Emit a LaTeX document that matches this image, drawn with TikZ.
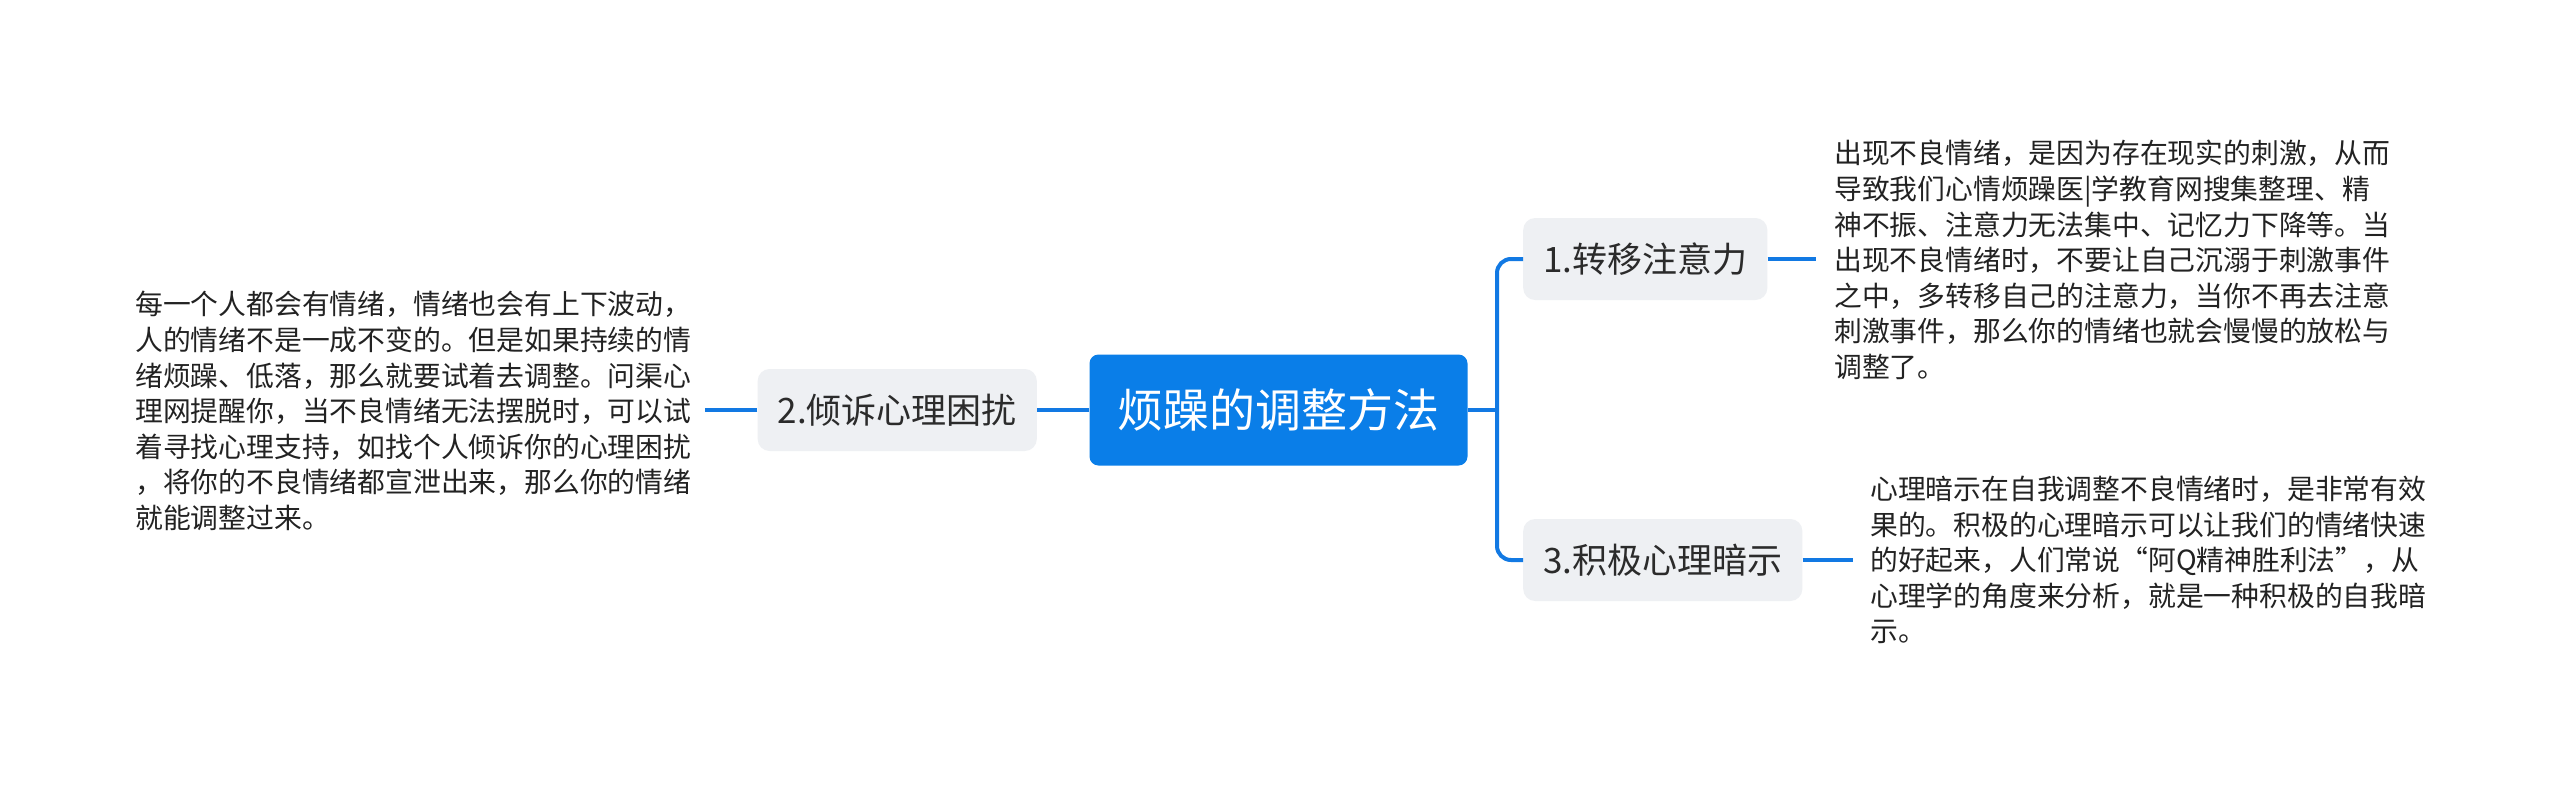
\documentclass[tikz,border=0pt]{standalone}
\usepackage{fontspec}
\newfontfamily\cjk{Noto Sans CJK SC}
\definecolor{mainblue}{HTML}{0A7EE8}
\definecolor{linkblue}{HTML}{1279E3}
\definecolor{branchgray}{HTML}{EEF0F3}
\definecolor{nodetext}{HTML}{2B2B2B}
\definecolor{leaftext}{HTML}{222222}
\tikzset{
  rootbox/.style={fill=mainblue, text=white, rounded corners=9pt, inner xsep=28pt, inner ysep=0pt,
    minimum height=111pt, font={\cjk\fontsize{46}{52}\selectfont}},
  branchbox/.style={fill=branchgray, text=nodetext, rounded corners=12pt, inner xsep=20pt, inner ysep=0pt,
    minimum height=82pt, font={\cjk\fontsize{35}{40}\selectfont}},
  leafbox/.style={text=leaftext, inner sep=0pt, align=left, text width=620pt,
    font={\cjk\fontsize{27.8}{35.6}\selectfont}},
  conn/.style={draw=linkblue, line width=4pt},
}
\begin{document}
\begin{tikzpicture}[x=1pt,y=-1pt]
\fill[white] (0,0) rectangle (2560,785);
\useasboundingbox (0,0) rectangle (2560,785);

\node[rootbox] (c) at (1278.5,410) {烦躁的调整方法};
\node[branchbox, anchor=west] (b1) at (1523,259) {1.转移注意力};
\node[branchbox, anchor=east] (b2) at (1037,410) {2.倾诉心理困扰};
\node[branchbox, anchor=west] (b3) at (1523,560) {3.积极心理暗示};

\node[leafbox, anchor=west] (t1) at (1834,260) {出现不良情绪，是因为存在现实的刺激，从而\\导致我们心情烦躁医|学教育网搜集整理、精\\神不振、注意力无法集中、记忆力下降等。当\\出现不良情绪时，不要让自己沉溺于刺激事件\\之中，多转移自己的注意力，当你不再去注意\\刺激事件，那么你的情绪也就会慢慢的放松与\\调整了。};
\node[leafbox, anchor=west] (t2) at (135,411) {每一个人都会有情绪，情绪也会有上下波动，\\人的情绪不是一成不变的。但是如果持续的情\\绪烦躁、低落，那么就要试着去调整。问渠心\\理网提醒你，当不良情绪无法摆脱时，可以试\\着寻找心理支持，如找个人倾诉你的心理困扰\\，将你的不良情绪都宣泄出来，那么你的情绪\\就能调整过来。};
\node[leafbox, anchor=west] (t3) at (1870,560) {心理暗示在自我调整不良情绪时，是非常有效\\果的。积极的心理暗示可以让我们的情绪快速\\的好起来，人们常说“阿Q精神胜利法”，从\\心理学的角度来分析，就是一种积极的自我暗\\示。};

\coordinate (jn) at (1497,410);
\coordinate (e1) at (1816,259);
\coordinate (e2) at (705,410);
\coordinate (e3) at (1853,560);

\draw[conn] (c.east) -- (jn);
\draw[conn, rounded corners=14pt] (b1.west) -| (jn) |- (b3.west);
\draw[conn] (c.west) -- (b2.east);
\draw[conn] (b2.west) -- (e2);
\draw[conn] (b1.east) -- (e1);
\draw[conn] (b3.east) -- (e3);
\end{tikzpicture}
\end{document}
